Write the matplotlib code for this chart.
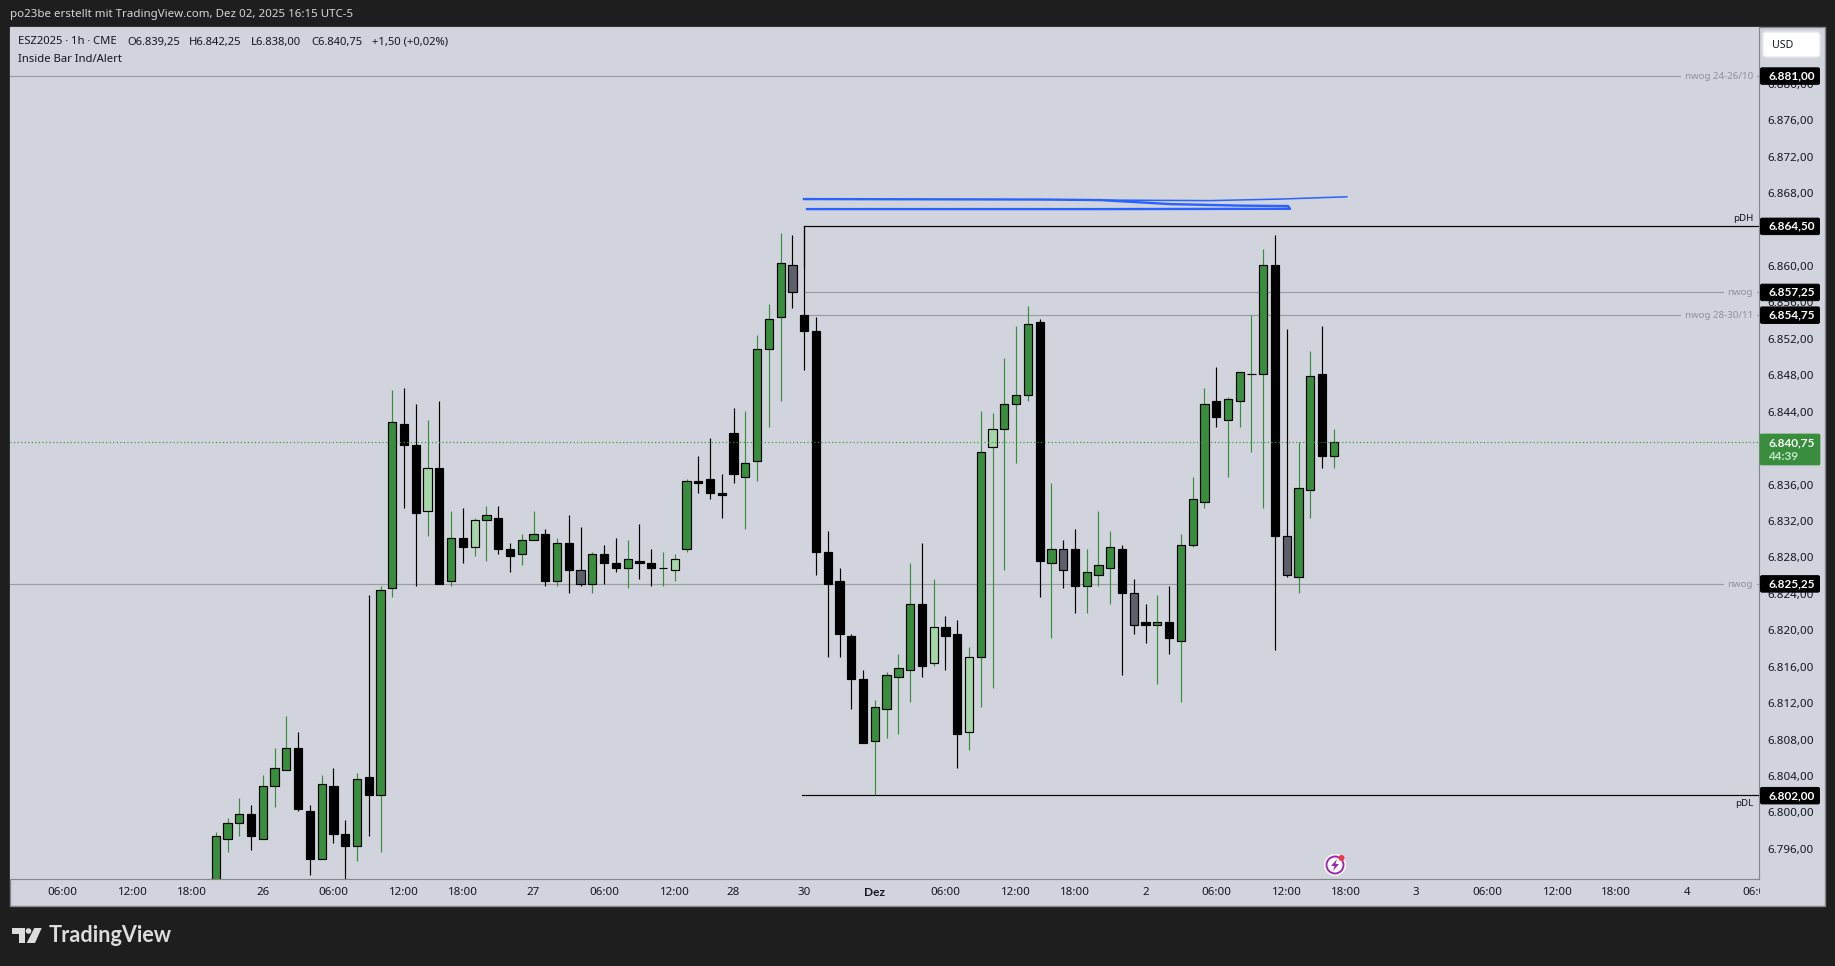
import matplotlib
matplotlib.use("Agg")
import matplotlib.pyplot as plt
from matplotlib.patches import Rectangle, FancyBboxPatch, Circle, Polygon
from matplotlib.transforms import ScaledTranslation

plt.rcParams["font.family"] = ["Noto Sans", "DejaVu Sans"]

# hourly candles, oldest first
opens = [6791.0, 6797.25, 6799.0, 6800.0, 6797.25, 6803.0, 6804.75, 6807.25, 6800.25, 6795.0,
         6803.0, 6797.75, 6796.5, 6804.0, 6802.0, 6824.75, 6842.75, 6840.5, 6833.25, 6838.0,
         6825.5, 6830.25, 6829.25, 6832.25, 6832.5, 6829.0, 6828.5, 6830.0, 6830.75, 6825.5,
         6829.75, 6826.75, 6825.25, 6828.5, 6827.5, 6827.0, 6827.75, 6827.5, 6827.0, 6826.75,
         6829.0, 6836.5, 6836.75, 6835.25, 6841.75, 6837.0, 6838.75, 6851.0, 6854.5, 6860.25,
         6854.75, 6853.0, 6828.75, 6825.5, 6819.5, 6814.75, 6808.0, 6811.5, 6815.0, 6815.75,
         6823.0, 6816.5, 6820.5, 6819.75, 6809.0, 6817.25, 6840.25, 6842.25, 6845.0, 6846.0,
         6854.0, 6827.5, 6829.0, 6829.0, 6825.0, 6826.25, 6827.0, 6829.0, 6824.25, 6821.0,
         6820.75, 6821.0, 6819.0, 6829.5, 6834.25, 6845.25, 6843.25, 6845.25, 6848.25, 6848.25,
         6860.25, 6830.5, 6826.0, 6835.5, 6848.25, 6839.25]
highs = [6798.0, 6799.5, 6801.75, 6801.0, 6804.25, 6807.25, 6810.75, 6809.0, 6801.0, 6804.25,
         6805.0, 6799.25, 6804.5, 6824.0, 6825.0, 6846.5, 6846.75, 6845.0, 6843.25, 6845.25,
         6833.25, 6833.5, 6832.5, 6833.75, 6833.75, 6829.75, 6830.75, 6833.25, 6831.25, 6830.25,
         6832.75, 6831.5, 6828.75, 6829.5, 6830.25, 6830.0, 6831.75, 6829.0, 6828.75, 6828.5,
         6836.75, 6839.25, 6841.25, 6837.25, 6844.5, 6844.25, 6852.5, 6856.0, 6863.75, 6863.5,
         6864.5, 6854.5, 6831.0, 6827.0, 6819.75, 6815.75, 6812.5, 6815.5, 6817.5, 6827.5,
         6829.75, 6825.75, 6821.75, 6821.25, 6818.25, 6844.25, 6844.0, 6850.0, 6853.5, 6855.75,
         6854.25, 6836.25, 6830.0, 6831.25, 6829.0, 6833.25, 6831.0, 6829.5, 6825.75, 6823.0,
         6824.0, 6825.0, 6830.75, 6837.0, 6846.75, 6849.0, 6845.75, 6848.5, 6854.75, 6862.0,
         6863.5, 6853.25, 6840.75, 6850.75, 6853.5, 6842.25]
lows = [6789.0, 6795.75, 6797.5, 6796.0, 6797.25, 6800.75, 6804.75, 6800.25, 6793.25, 6795.0,
        6796.75, 6792.0, 6794.75, 6797.5, 6795.75, 6823.75, 6833.5, 6825.0, 6830.5, 6825.25,
        6825.0, 6827.5, 6828.25, 6827.75, 6828.5, 6826.5, 6827.25, 6830.0, 6825.0, 6825.0,
        6824.25, 6825.0, 6824.25, 6825.25, 6826.5, 6824.75, 6825.75, 6825.0, 6825.0, 6825.5,
        6828.75, 6835.25, 6834.5, 6832.5, 6836.25, 6831.25, 6836.5, 6842.5, 6845.25, 6855.5,
        6848.75, 6826.25, 6817.25, 6817.25, 6811.5, 6807.75, 6802.0, 6808.25, 6808.75, 6812.25,
        6815.0, 6816.25, 6815.75, 6805.0, 6807.0, 6811.75, 6813.75, 6826.75, 6838.5, 6845.25,
        6823.75, 6819.25, 6824.75, 6822.0, 6822.0, 6825.0, 6823.0, 6815.25, 6819.75, 6818.75,
        6814.25, 6817.5, 6812.25, 6829.25, 6833.5, 6842.5, 6837.0, 6842.5, 6839.75, 6833.5,
        6818.0, 6826.0, 6824.25, 6832.5, 6838.0, 6838.0]
closes = [6797.5, 6799.0, 6800.0, 6797.5, 6803.0, 6805.0, 6807.25, 6800.5, 6795.0, 6803.25,
          6797.75, 6796.5, 6803.75, 6802.0, 6824.5, 6843.0, 6840.5, 6833.0, 6838.0, 6825.25,
          6830.25, 6829.25, 6832.25, 6832.75, 6829.0, 6828.25, 6830.0, 6830.75, 6825.5, 6829.75,
          6826.75, 6825.25, 6828.5, 6827.5, 6827.0, 6828.0, 6827.5, 6827.0, 6827.0, 6828.0,
          6836.5, 6836.25, 6835.25, 6835.0, 6837.25, 6838.5, 6851.0, 6854.25, 6860.5, 6857.25,
          6853.0, 6828.75, 6825.25, 6819.75, 6814.75, 6807.75, 6811.75, 6815.25, 6816.0, 6823.0,
          6816.25, 6820.5, 6819.5, 6808.75, 6817.25, 6839.75, 6842.25, 6845.0, 6846.0, 6853.75,
          6827.75, 6829.0, 6826.75, 6825.0, 6826.5, 6827.25, 6829.25, 6824.25, 6820.75, 6820.75,
          6821.0, 6819.25, 6829.5, 6834.5, 6845.0, 6843.5, 6845.5, 6848.5, 6848.25, 6860.25,
          6830.5, 6826.25, 6835.75, 6848.0, 6839.25, 6840.75]
inside_bars = [18, 22, 31, 39, 49, 61, 64, 66, 72, 78, 91]

# time axis, bar number of each label
time_ticks = [-13, -7, -2, 4, 10, 16, 21, 27, 33, 39, 44, 50, 56, 62, 68, 73, 79, 85, 91, 96,
              102, 108, 114, 119, 125, 131]
time_labels = ["06:00", "12:00", "18:00", "26", "06:00", "12:00", "18:00", "27", "06:00", "12:00",
               "28", "30", "Dez", "06:00", "12:00", "18:00", "2", "06:00", "12:00", "18:00",
               "3", "06:00", "12:00", "18:00", "4", "06:00"]
price_ticks = [6796, 6800, 6804, 6808, 6812, 6816, 6820, 6824, 6828, 6832, 6836, 6840, 6844,
               6848, 6852, 6856, 6860, 6864, 6868, 6872, 6876, 6880]

# levels: price, first bar, label
level_prices = [6881.0, 6857.25, 6854.75, 6825.25]
level_starts = [-18, 50, 50, -18]
level_names = ["nwog 24-26/10", "nwog", "nwog 28-30/11", "nwog"]
pdh_price = 6864.5
pdl_price = 6802.0
last_price = 6840.75

# blue hand drawn marks
blue_a_bars = [49.98, 70.03, 75.13, 81.08, 87.03, 91.11, 91.28, 75.13, 50.24]
blue_a_prices = [6867.47, 6867.42, 6867.36, 6866.92, 6866.75, 6866.70, 6866.40, 6866.37, 6866.37]
blue_b_bars = [75.13, 84.48, 90.43, 96.1]
blue_b_prices = [6867.36, 6867.30, 6867.47, 6867.72]

BG = "#d1d4dc"
DARK = "#1e1e1e"
GREEN = "#388e3c"
LIGHT = "#a5d6a7"
GREY = "#5d606b"
LINE = "#9a9ca3"
TXT = "#131722"
ymin, ymax = 6792.88, 6886.36


def de(v):
    # german number format
    return f"{v:,.2f}".replace(",", "#").replace(".", ",").replace("#", ".")


def py(price):
    return 27 + (ymax - price) / (ymax - ymin) * 851.5


def price_box(over, price):
    over.add_patch(FancyBboxPatch((1760.5, py(price) - 8), 59, 16.5,
                                  boxstyle="round,pad=0,rounding_size=1.5", fc="black", ec="black", lw=0.7))
    over.text(1768, py(price), de(price), color="white", fontsize=8.5, va="center", ha="left",
              family="Lato", fontweight="bold")


fig = plt.figure(figsize=(18.35, 9.66), dpi=100, facecolor=DARK)

# panel behind everything
back = fig.add_axes([0, 0, 1, 1], zorder=0)
back.set_xlim(0, 1835)
back.set_ylim(966, 0)
back.axis("off")
back.add_patch(Rectangle((10, 27), 1815, 878.5, fc=BG, ec="#85878d", lw=1))

ax = fig.add_axes([10 / 1835, 1 - 878.5 / 966, 1749 / 1835, 851.5 / 966], zorder=1, facecolor=BG)
ax.set_xlim(-17.48, 131.12)
ax.set_ylim(ymin, ymax)

bars = list(range(len(opens)))
up = [c >= o for o, c in zip(opens, closes)]
wick_colors = [GREEN if u else "black" for u in up]
body_colors = []
for i in bars:
    if i in inside_bars:
        body_colors.append(LIGHT if up[i] else GREY)
    else:
        body_colors.append(GREEN if up[i] else "black")

ax.vlines(bars, lows, highs, colors=wick_colors, lw=0.85, zorder=2)
bottoms = [min(o, c) for o, c in zip(opens, closes)]
heights = [abs(c - o) for o, c in zip(opens, closes)]
ax.bar(bars, heights, bottom=bottoms, width=0.7, color=body_colors, edgecolor="black", lw=0.85, zorder=3)

for price, start in zip(level_prices, level_starts):
    ax.plot([start, 132], [price, price], color=LINE, lw=0.85, zorder=1)
ax.plot([50, 132], [pdh_price, pdh_price], color="black", lw=0.85, zorder=4)
ax.plot([50, 50], [pdh_price, 6860], color="black", lw=0.85, zorder=4)
ax.plot([49.8, 132], [pdl_price, pdl_price], color="black", lw=0.85, zorder=4)
ax.axhline(last_price, color=GREEN, lw=0.85, ls=(0, (1, 2)), zorder=5)

ax.plot(blue_a_bars, blue_a_prices, color="#2962ff", lw=1.7, zorder=6)
ax.plot(blue_b_bars, blue_b_prices, color="#2962ff", lw=1.1, zorder=6)

ax.yaxis.tick_right()
ax.set_yticks(price_ticks)
ax.set_yticklabels([de(p) for p in price_ticks], fontsize=8.3, color=TXT)
ax.set_xticks(time_ticks)
ax.set_xticklabels(time_labels, fontsize=8.3, color=TXT)
ax.tick_params(axis="y", length=0, pad=6.3)
ax.tick_params(axis="x", length=0, pad=6.4)
dez = ax.get_xticklabels()[time_labels.index("Dez")]
dez.set_family("Lato")
dez.set_fontweight("bold")
dez.set_fontsize(8.6)
# labels sit a pixel above their price
nudge = ScaledTranslation(0, 0.012, fig.dpi_scale_trans)
for lab in ax.get_yticklabels():
    lab.set_transform(lab.get_transform() + nudge)
for side in ["top", "left"]:
    ax.spines[side].set_visible(False)
for side in ["right", "bottom"]:
    ax.spines[side].set_color("#85878d")
    ax.spines[side].set_linewidth(0.85)

# everything drawn in pixels goes on top
over = fig.add_axes([0, 0, 1, 1], zorder=2)
over.set_xlim(0, 1835)
over.set_ylim(966, 0)
over.axis("off")
over.patch.set_alpha(0)

# covers the cut off 06:00 label
over.add_patch(Rectangle((1760, 880), 63, 25, fc=BG, ec="none"))

over.text(10, 14.5, "po23be erstellt mit TradingView.com, Dez 02, 2025 16:15 UTC-5", color="#d6d6d6",
          fontsize=8.3, va="center", ha="left")
legend_x = [18, 127.7, 189, 251, 311, 372]
legend_text = ["ESZ2025 · 1h · CME", "O6.839,25", "H6.842,25", "L6.838,00", "C6.840,75", "+1,50 (+0,02%)"]
for x, t in zip(legend_x, legend_text):
    over.text(x, 42, t, color=TXT, fontsize=8.1, va="center", ha="left")
over.text(18, 59.5, "Inside Bar Ind/Alert", color=TXT, fontsize=8.1, va="center", ha="left")

# usd button
over.add_patch(FancyBboxPatch((1763, 32), 57, 25, boxstyle="round,pad=0,rounding_size=3", fc="white",
                              ec="#e8e9ee", lw=1))
over.text(1772, 45, "USD", color=TXT, fontsize=7.6, va="center", ha="left")

for price in level_prices + [pdh_price, pdl_price]:
    price_box(over, price)

for price, name in zip(level_prices, level_names):
    over.text(1753, py(price) + 0.5, name, color="#8f919a", fontsize=7.0, va="center", ha="right",
              bbox=dict(fc=BG, ec="none", pad=2.5))
over.text(1753, py(pdh_price) - 8, "pDH", color=TXT, fontsize=7.0, va="center", ha="right")
over.text(1753, py(pdl_price) + 8.5, "pDL", color=TXT, fontsize=7.0, va="center", ha="right")

# last price box
over.add_patch(FancyBboxPatch((1760, 434), 60, 31, boxstyle="round,pad=0,rounding_size=1.5", fc=GREEN,
                              ec=GREEN, lw=0.5))
over.text(1768, py(last_price), de(last_price), color="white", fontsize=8.5, va="center", ha="left",
          family="Lato", fontweight="bold")
over.text(1768, 456, "44:39", color="#c8e6c9", fontsize=8.5, va="center", ha="left", family="Lato",
          fontweight="bold")

# alert icon
over.add_patch(Circle((1335, 865), 11, fc="white", ec="none"))
over.add_patch(Circle((1335, 865), 8.5, fc="white", ec="#9c27b0", lw=1.4))
over.add_patch(Polygon([(1337, 859), (1331, 866), (1334.5, 866), (1333, 871), (1339, 864), (1335.5, 864)],
                       fc="#9c27b0", ec="none"))
over.add_patch(Circle((1341.5, 858), 3, fc="#f23645", ec="none"))

# logo
logo = "#dcdcdc"
over.add_patch(Polygon([(12, 928), (25, 928), (25, 943), (18.7, 943), (18.7, 933.7), (12, 933.7)], fc=logo, ec="none"))
over.add_patch(Circle((28.5, 931), 2.8, fc=logo, ec="none"))
over.add_patch(Polygon([(34.3, 928), (41.7, 928), (35, 943), (26.7, 943)], fc=logo, ec="none"))
over.text(49, 936, "TradingView", color=logo, fontsize=15.6, va="center", ha="left", family="Lato",
          fontweight="bold")

fig.savefig("out.png", dpi=100, facecolor=DARK)
